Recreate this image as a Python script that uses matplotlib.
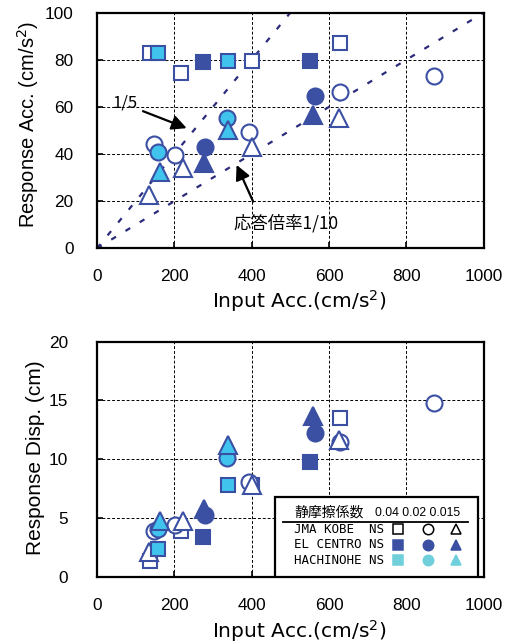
import matplotlib
matplotlib.use("Agg")
import matplotlib.pyplot as plt
from matplotlib.patches import Rectangle
from matplotlib.lines import Line2D

# ---------------- data ----------------
# input accelerations (cm/s^2)
jma_sq_x = [137, 216, 402, 628]
jma_ci_x = [148, 202, 394, 628, 872]
jma_tr_x = [135, 223, 400, 625]
elc_sq_x = [273, 550]
elc_ci_x = [280, 563]
elc_tr_x = [276, 558]
hac_sq_x = [158, 340]
hac_ci_x = [157, 335]
hac_tr_x = [162, 340]

# response acceleration (cm/s^2)
jma_sq_acc = [82.7, 74.5, 79.5, 87.3]
jma_ci_acc = [44.3, 39.6, 49.2, 66.5, 73.1]
jma_tr_acc = [22.6, 34.0, 43.1, 55.2]
elc_sq_acc = [79.2, 79.5]
elc_ci_acc = [43.1, 64.6]
elc_tr_acc = [36.1, 56.6]
hac_sq_acc = [82.7, 79.5]
hac_ci_acc = [41.0, 55.2]
hac_tr_acc = [32.5, 50.2]

# response displacement (cm)
jma_sq_disp = [1.3, 3.9, 7.8, 13.5]
jma_ci_disp = [3.9, 4.4, 8.1, 11.5, 14.8]
jma_tr_disp = [2.1, 4.7, 7.8, 11.6]
elc_sq_disp = [3.4, 9.75]
elc_ci_disp = [5.26, 12.2]
elc_tr_disp = [5.8, 13.7]
hac_sq_disp = [2.4, 7.8]
hac_ci_disp = [4.1, 10.1]
hac_tr_disp = [4.7, 11.2]

ratio_lines = [1/5, 1/10]
xticks = [0, 200, 400, 600, 800, 1000]
acc_ticks = [0, 20, 40, 60, 80, 100]
disp_ticks = [0, 5, 10, 15, 20]
legend_rows = ["JMA KOBE  NS", "EL CENTRO NS", "HACHINOHE NS"]
legend_cols = ["0.04", "0.02", "0.015"]

# ---------------- style ----------------
BLUE = "#3B4FA3"
CYAN = "#40C4EE"
LCYAN = "#6FD0DC"
NAVY = "#2B2B7A"
JP = ["Noto Sans CJK JP", "DejaVu Sans"]
MONO = ["DejaVu Sans Mono", "Noto Sans CJK JP"]

W, H = 511, 644
fig = plt.figure(figsize=(W / 100, H / 100), dpi=100)


def px_axes(l, t, r, b):
    return fig.add_axes([l / W, 1 - b / H, (r - l) / W, (b - t) / H])


ax1 = px_axes(97, 12.7, 483.6, 248.3)
ax2 = px_axes(97, 341.7, 483.6, 576.7)

sty = {
    "s": dict(marker="s", ms=10.5, mew=1.5),
    "o": dict(marker="o", ms=11.5, mew=1.5),
    "^": dict(marker="^", ms=13, mew=1.5),
}


def draw_series(ax, data):
    for xs, ys, m, face in data:
        ax.plot(xs, ys, linestyle="none", mfc=face, mec=BLUE, zorder=3,
                **sty[m])


def style_axes(ax, yticks, ylim, ypad):
    ax.set_xlim(0, 1000)
    ax.set_ylim(*ylim)
    ax.set_xticks(xticks)
    ax.set_yticks(yticks)
    ax.tick_params(direction="in", length=4, width=1.2, labelsize=12.4,
                   top=False, right=False)
    ax.tick_params(axis="x", pad=15)
    ax.tick_params(axis="y", pad=ypad)
    for lab in ax.get_xticklabels() + ax.get_yticklabels():
        lab.set_fontfamily("Liberation Sans")
    ax.grid(True, color="black", linestyle=(0, (3, 2)), linewidth=0.7)
    ax.set_axisbelow(True)
    for sp in ax.spines.values():
        sp.set_linewidth(1.6)
        sp.set_color("black")


# ---------------- top: response acceleration ----------------
for r in ratio_lines:
    ax1.plot([0, 1000], [0, 1000 * r], color=NAVY, lw=1.6,
             dashes=(2.5, 5), zorder=2, clip_on=True)

draw_series(ax1, [
    (jma_sq_x, jma_sq_acc, "s", "white"),
    (jma_ci_x, jma_ci_acc, "o", "white"),
    (jma_tr_x, jma_tr_acc, "^", "white"),
    (elc_sq_x, elc_sq_acc, "s", BLUE),
    (elc_ci_x, elc_ci_acc, "o", BLUE),
    (elc_tr_x, elc_tr_acc, "^", BLUE),
    (hac_sq_x, hac_sq_acc, "s", CYAN),
    (hac_ci_x, hac_ci_acc, "o", CYAN),
    (hac_tr_x, hac_tr_acc, "^", CYAN),
])
style_axes(ax1, acc_ticks, (0, 100), 17)

arrow = dict(arrowstyle="-|>", color="black", lw=1.6, mutation_scale=22,
             shrinkA=0, shrinkB=0)
ax1.text(72, 61.8, "1/5", fontsize=12, family=JP, ha="center", va="center")
ax1.annotate("", xy=(232, 51), xytext=(119, 58.2), arrowprops=arrow,
             zorder=5)
ax1.text(489, 10.8, "応答倍率1/10", fontsize=12.5, family=JP,
         ha="center", va="center")
ax1.annotate("", xy=(361, 35.4), xytext=(404, 19.8), arrowprops=arrow,
             zorder=5)

# ---------------- bottom: response displacement ----------------
draw_series(ax2, [
    (jma_sq_x, jma_sq_disp, "s", "white"),
    (jma_ci_x, jma_ci_disp, "o", "white"),
    (jma_tr_x, jma_tr_disp, "^", "white"),
    (elc_sq_x, elc_sq_disp, "s", BLUE),
    (elc_ci_x, elc_ci_disp, "o", BLUE),
    (elc_tr_x, elc_tr_disp, "^", BLUE),
    (hac_sq_x, hac_sq_disp, "s", CYAN),
    (hac_ci_x, hac_ci_disp, "o", CYAN),
    (hac_tr_x, hac_tr_disp, "^", CYAN),
])
style_axes(ax2, disp_ticks, (0, 20), 21)

# custom legend table
T = ax2.transAxes
ax2.add_patch(Rectangle((0.460, 0.0), 0.526, 0.340, transform=T,
                        facecolor="white", edgecolor="black", lw=1.6,
                        zorder=6))
ax2.text(0.510, 0.272, "静摩擦係数", transform=T, family=JP, fontsize=10,
         va="center", ha="left", zorder=7)
ax2.text(0.718, 0.272, " ".join(legend_cols), transform=T,
         family="Liberation Sans", fontsize=8.8, va="center", ha="left",
         zorder=7)
ax2.add_line(Line2D([0.481, 0.960], [0.234, 0.234], transform=T,
                    color="black", lw=1.3, zorder=7))
col_x = [0.779, 0.856, 0.928]
row_y = [0.202, 0.135, 0.071]
for ry, lab in zip(row_y, legend_rows):
    ax2.text(0.510, ry, lab, transform=T, family=MONO, fontsize=9,
             va="center", ha="left", zorder=7)
leg_faces = [("white", "black"), (BLUE, BLUE), (LCYAN, LCYAN)]
leg_ms = {"s": 6.5, "o": 7.5, "^": 7.5}
for ry, (fc, ec) in zip(row_y, leg_faces):
    for cx, m in zip(col_x, ["s", "o", "^"]):
        ax2.plot([cx], [ry], marker=m, ms=leg_ms[m], mfc=fc, mec=ec,
                 mew=1.1, transform=T, zorder=8, clip_on=False)

# ---------------- axis labels ----------------
fig.text(299 / W, 1 - 301 / H, "Input Acc.(cm/s$^2$)", fontsize=14.5,
         family="DejaVu Sans", ha="center", va="center")
fig.text(299 / W, 1 - 631 / H, "Input Acc.(cm/s$^2$)", fontsize=14.5,
         family="DejaVu Sans", ha="center", va="center")
fig.text(28 / W, 1 - 124 / H, "Response Acc. (cm/s$^2$)", fontsize=14.5,
         family="Liberation Sans", rotation=90, ha="center", va="center")
fig.text(36 / W, 1 - 458 / H, "Response Disp. (cm)", fontsize=15,
         family="Liberation Sans", rotation=90, ha="center", va="center")

fig.savefig("out.png", dpi=100, facecolor="white")
